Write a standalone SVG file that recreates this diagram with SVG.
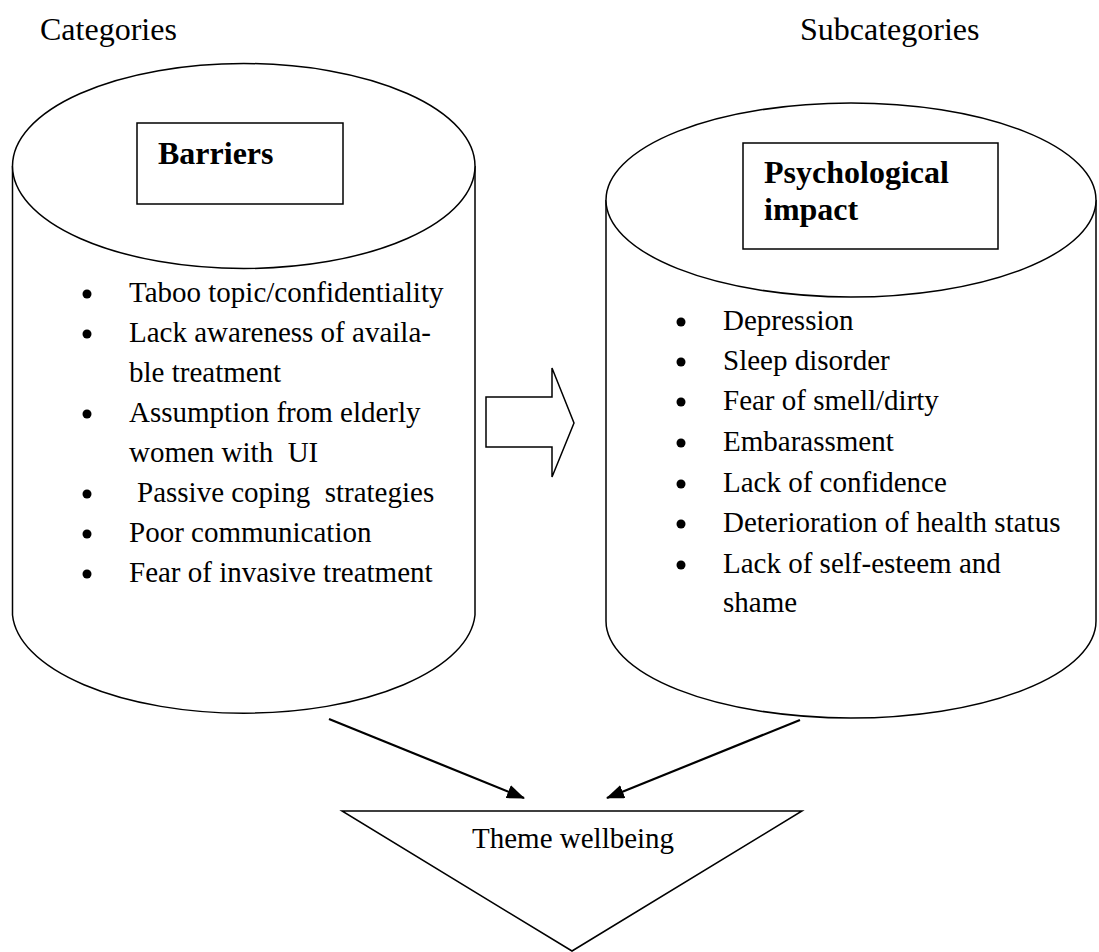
<svg xmlns="http://www.w3.org/2000/svg" width="1099" height="952" viewBox="0 0 1099 952">
<defs>
<style>
text{font-family:"Liberation Serif","Times New Roman",serif;fill:#000}
.t{font-size:29px}
.h{font-size:32px}
.b{font-size:32px;font-weight:bold}
.s{fill:#fff;stroke:#000;stroke-width:1.5}
.bul{fill:#000}
.c{stroke:#000;stroke-width:2.2;fill:none}
</style>
<marker id="ah" markerWidth="18" markerHeight="14" refX="17" refY="7" orient="auto" markerUnits="userSpaceOnUse" viewBox="0 0 18 14">
<path d="M0,0 L18,7 L0,14 z" fill="#000"/>
</marker>
</defs>
<rect width="1099" height="952" fill="#fff"/>
<g id="headers">
<text class="h" x="40" y="40">Categories</text>
<text class="h" x="800" y="40">Subcategories</text>
</g>
<g id="barriers">
<path class="s" d="M12.5,166 L12.5,615 A231.5,103 0 0 0 475,615 L475,166"/>
<ellipse class="s" cx="243.75" cy="166" rx="231.25" ry="102.5"/>
<rect class="s" x="137" y="123" width="206" height="81"/>
<text class="b" x="158" y="164">Barriers</text>
<g class="bul">
<circle cx="87" cy="294" r="4.5"/>
<circle cx="87" cy="334" r="4.5"/>
<circle cx="87" cy="414" r="4.5"/>
<circle cx="87" cy="494" r="4.5"/>
<circle cx="87" cy="534" r="4.5"/>
<circle cx="87" cy="574" r="4.5"/>
</g>
<text class="t" x="129" y="302">Taboo topic/confidentiality</text>
<text class="t" x="129" y="342">Lack awareness of availa-</text>
<text class="t" x="129" y="382">ble treatment</text>
<text class="t" x="129" y="422">Assumption from elderly</text>
<text class="t" x="129" y="462" xml:space="preserve">women with  UI</text>
<text class="t" x="137" y="502" xml:space="preserve">Passive coping  strategies</text>
<text class="t" x="129" y="542">Poor communication</text>
<text class="t" x="129" y="582">Fear of invasive treatment</text>
</g>
<g id="psychological">
<path class="s" d="M606,200 L606,621 A245,97 0 0 0 1096,621 L1096,200"/>
<ellipse class="s" cx="851" cy="200" rx="245" ry="97"/>
<rect class="s" x="743" y="143" width="255" height="106"/>
<text class="b" x="764" y="183">Psychological</text>
<text class="b" x="764" y="220">impact</text>
<g class="bul">
<circle cx="681" cy="322" r="4.5"/>
<circle cx="681" cy="362" r="4.5"/>
<circle cx="681" cy="402" r="4.5"/>
<circle cx="681" cy="443" r="4.5"/>
<circle cx="681" cy="484" r="4.5"/>
<circle cx="681" cy="524" r="4.5"/>
<circle cx="681" cy="565" r="4.5"/>
</g>
<text class="t" x="723" y="330">Depression</text>
<text class="t" x="723" y="370">Sleep disorder</text>
<text class="t" x="723" y="410">Fear of smell/dirty</text>
<text class="t" x="723" y="451">Embarassment</text>
<text class="t" x="723" y="492">Lack of confidence</text>
<text class="t" x="723" y="532">Deterioration of health status</text>
<text class="t" x="723" y="573">Lack of self-esteem and</text>
<text class="t" x="723" y="612">shame</text>
</g>
<g id="block-arrow">
<path class="s" d="M486,397 L552,397 L552,368 L574,423 L552,477 L552,447 L486,447 Z"/>
</g>
<g id="theme">
<path class="s" d="M342,811 L802,811 L572,951 Z"/>
<text class="t" x="472" y="848">Theme wellbeing</text>
</g>
<g id="connectors">
<line class="c" x1="329" y1="719" x2="524" y2="798" marker-end="url(#ah)"/>
<line class="c" x1="800" y1="720" x2="607" y2="798" marker-end="url(#ah)"/>
</g>
</svg>
